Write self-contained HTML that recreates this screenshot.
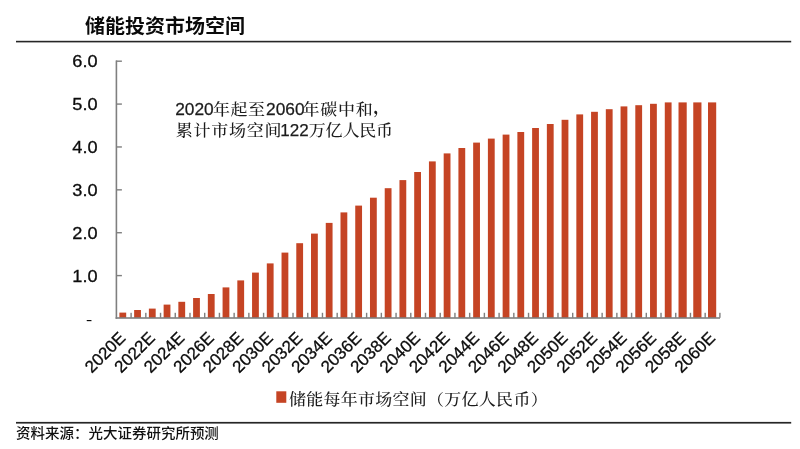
<!DOCTYPE html>
<html lang="zh-CN">
<head>
<meta charset="utf-8">
<title>储能投资市场空间</title>
<style>
html,body{margin:0;padding:0;background:#fff;}
body{width:800px;height:449px;overflow:hidden;position:relative;}
svg{position:absolute;left:0;top:0;display:block;}
.sans{font-family:"Liberation Sans","Noto Sans CJK SC",sans-serif;}
.serif{font-family:"Liberation Sans","Noto Serif CJK SC",serif;}
</style>
</head>
<body>
<svg width="800" height="449" viewBox="0 0 800 449">
<rect x="0" y="0" width="800" height="449" fill="#ffffff"/>
<text class="sans" transform="translate(85 33) scale(1 0.95)" x="0" y="0" font-size="20" font-weight="700" fill="#0a0a0a">储能投资市场空间</text>
<rect x="16" y="40.8" width="775.2" height="1.6" fill="#262626"/>
<rect x="16" y="421.9" width="775.2" height="1.7" fill="#262626"/>
<text class="sans" transform="translate(16 438.4) scale(1 0.96)" x="0" y="0" font-size="14.5" font-weight="500" fill="#111">资料来源：光大证券研究所预测</text>
<g fill="#C54424">
<rect x="119.40" y="312.60" width="6.80" height="5.40"/>
<rect x="134.14" y="310.00" width="6.80" height="8.00"/>
<rect x="148.88" y="308.60" width="6.80" height="9.40"/>
<rect x="163.62" y="304.60" width="6.80" height="13.40"/>
<rect x="178.36" y="301.80" width="6.80" height="16.20"/>
<rect x="193.10" y="298.00" width="6.80" height="20.00"/>
<rect x="207.84" y="294.00" width="6.80" height="24.00"/>
<rect x="222.58" y="287.40" width="6.80" height="30.60"/>
<rect x="237.32" y="280.40" width="6.80" height="37.60"/>
<rect x="252.06" y="272.60" width="6.80" height="45.40"/>
<rect x="266.80" y="263.40" width="6.80" height="54.60"/>
<rect x="281.54" y="252.60" width="6.80" height="65.40"/>
<rect x="296.28" y="243.20" width="6.80" height="74.80"/>
<rect x="311.02" y="233.60" width="6.80" height="84.40"/>
<rect x="325.76" y="222.90" width="6.80" height="95.10"/>
<rect x="340.50" y="212.40" width="6.80" height="105.60"/>
<rect x="355.24" y="205.60" width="6.80" height="112.40"/>
<rect x="369.98" y="197.70" width="6.80" height="120.30"/>
<rect x="384.72" y="188.20" width="6.80" height="129.80"/>
<rect x="399.46" y="180.10" width="6.80" height="137.90"/>
<rect x="414.20" y="172.00" width="6.80" height="146.00"/>
<rect x="428.94" y="161.40" width="6.80" height="156.60"/>
<rect x="443.68" y="153.40" width="6.80" height="164.60"/>
<rect x="458.42" y="148.00" width="6.80" height="170.00"/>
<rect x="473.16" y="142.60" width="6.80" height="175.40"/>
<rect x="487.90" y="138.60" width="6.80" height="179.40"/>
<rect x="502.64" y="134.60" width="6.80" height="183.40"/>
<rect x="517.38" y="132.00" width="6.80" height="186.00"/>
<rect x="532.12" y="128.00" width="6.80" height="190.00"/>
<rect x="546.86" y="124.00" width="6.80" height="194.00"/>
<rect x="561.60" y="119.80" width="6.80" height="198.20"/>
<rect x="576.34" y="114.40" width="6.80" height="203.60"/>
<rect x="591.08" y="111.80" width="6.80" height="206.20"/>
<rect x="605.82" y="109.20" width="6.80" height="208.80"/>
<rect x="620.56" y="106.40" width="6.80" height="211.60"/>
<rect x="635.30" y="105.20" width="6.80" height="212.80"/>
<rect x="650.04" y="103.80" width="6.80" height="214.20"/>
<rect x="664.78" y="102.40" width="6.80" height="215.60"/>
<rect x="678.52" y="102.40" width="8.20" height="215.60"/>
<rect x="693.26" y="102.40" width="8.20" height="215.60"/>
<rect x="708.00" y="102.40" width="8.20" height="215.60"/>
</g>
<g fill="#7f7f7f">
<rect x="115.6" y="60.5" width="1.6" height="258.3"/>
<rect x="115.6" y="317.2" width="604.4" height="1.6"/>
<rect x="116" y="60.50" width="5.9" height="1.4"/>
<rect x="116" y="103.38" width="5.9" height="1.4"/>
<rect x="116" y="146.26" width="5.9" height="1.4"/>
<rect x="116" y="189.14" width="5.9" height="1.4"/>
<rect x="116" y="232.02" width="5.9" height="1.4"/>
<rect x="116" y="274.90" width="5.9" height="1.4"/>
<rect x="130.40" y="312.8" width="1.4" height="5"/>
<rect x="145.12" y="312.8" width="1.4" height="5"/>
<rect x="159.84" y="312.8" width="1.4" height="5"/>
<rect x="174.56" y="312.8" width="1.4" height="5"/>
<rect x="189.28" y="312.8" width="1.4" height="5"/>
<rect x="204.00" y="312.8" width="1.4" height="5"/>
<rect x="218.72" y="312.8" width="1.4" height="5"/>
<rect x="233.44" y="312.8" width="1.4" height="5"/>
<rect x="248.16" y="312.8" width="1.4" height="5"/>
<rect x="262.88" y="312.8" width="1.4" height="5"/>
<rect x="277.60" y="312.8" width="1.4" height="5"/>
<rect x="292.32" y="312.8" width="1.4" height="5"/>
<rect x="307.04" y="312.8" width="1.4" height="5"/>
<rect x="321.76" y="312.8" width="1.4" height="5"/>
<rect x="336.48" y="312.8" width="1.4" height="5"/>
<rect x="351.20" y="312.8" width="1.4" height="5"/>
<rect x="365.92" y="312.8" width="1.4" height="5"/>
<rect x="380.64" y="312.8" width="1.4" height="5"/>
<rect x="395.36" y="312.8" width="1.4" height="5"/>
<rect x="410.08" y="312.8" width="1.4" height="5"/>
<rect x="424.80" y="312.8" width="1.4" height="5"/>
<rect x="439.52" y="312.8" width="1.4" height="5"/>
<rect x="454.24" y="312.8" width="1.4" height="5"/>
<rect x="468.96" y="312.8" width="1.4" height="5"/>
<rect x="483.68" y="312.8" width="1.4" height="5"/>
<rect x="498.40" y="312.8" width="1.4" height="5"/>
<rect x="513.12" y="312.8" width="1.4" height="5"/>
<rect x="527.84" y="312.8" width="1.4" height="5"/>
<rect x="542.56" y="312.8" width="1.4" height="5"/>
<rect x="557.28" y="312.8" width="1.4" height="5"/>
<rect x="572.00" y="312.8" width="1.4" height="5"/>
<rect x="586.72" y="312.8" width="1.4" height="5"/>
<rect x="601.44" y="312.8" width="1.4" height="5"/>
<rect x="616.16" y="312.8" width="1.4" height="5"/>
<rect x="630.88" y="312.8" width="1.4" height="5"/>
<rect x="645.60" y="312.8" width="1.4" height="5"/>
<rect x="660.32" y="312.8" width="1.4" height="5"/>
<rect x="675.04" y="312.8" width="1.4" height="5"/>
<rect x="689.76" y="312.8" width="1.4" height="5"/>
<rect x="704.48" y="312.8" width="1.4" height="5"/>
<rect x="719.20" y="312.8" width="1.4" height="5"/>
</g>
<g class="sans" font-size="17" fill="#0c0c0c" stroke="#0c0c0c" stroke-width="0.3" text-anchor="end">
<text transform="translate(97.6 67.20) scale(1.07 1)" x="0" y="0">6.0</text>
<text transform="translate(97.6 110.08) scale(1.07 1)" x="0" y="0">5.0</text>
<text transform="translate(97.6 152.96) scale(1.07 1)" x="0" y="0">4.0</text>
<text transform="translate(97.6 195.84) scale(1.07 1)" x="0" y="0">3.0</text>
<text transform="translate(97.6 238.72) scale(1.07 1)" x="0" y="0">2.0</text>
<text transform="translate(97.6 281.60) scale(1.07 1)" x="0" y="0">1.0</text>
<text transform="translate(92.3 325) scale(1.1 0.9)" x="0" y="0" stroke-width="0.1">-</text>
</g>
<g class="sans" font-size="17" fill="#0c0c0c" stroke="#0c0c0c" stroke-width="0.3" text-anchor="end">
<text transform="translate(118.10 330.50) rotate(-45)" x="0" y="12">2020E</text>
<text transform="translate(147.58 330.50) rotate(-45)" x="0" y="12">2022E</text>
<text transform="translate(177.06 330.50) rotate(-45)" x="0" y="12">2024E</text>
<text transform="translate(206.54 330.50) rotate(-45)" x="0" y="12">2026E</text>
<text transform="translate(236.02 330.50) rotate(-45)" x="0" y="12">2028E</text>
<text transform="translate(265.50 330.50) rotate(-45)" x="0" y="12">2030E</text>
<text transform="translate(294.98 330.50) rotate(-45)" x="0" y="12">2032E</text>
<text transform="translate(324.46 330.50) rotate(-45)" x="0" y="12">2034E</text>
<text transform="translate(353.94 330.50) rotate(-45)" x="0" y="12">2036E</text>
<text transform="translate(383.42 330.50) rotate(-45)" x="0" y="12">2038E</text>
<text transform="translate(412.90 330.50) rotate(-45)" x="0" y="12">2040E</text>
<text transform="translate(442.38 330.50) rotate(-45)" x="0" y="12">2042E</text>
<text transform="translate(471.86 330.50) rotate(-45)" x="0" y="12">2044E</text>
<text transform="translate(501.34 330.50) rotate(-45)" x="0" y="12">2046E</text>
<text transform="translate(530.82 330.50) rotate(-45)" x="0" y="12">2048E</text>
<text transform="translate(560.30 330.50) rotate(-45)" x="0" y="12">2050E</text>
<text transform="translate(589.78 330.50) rotate(-45)" x="0" y="12">2052E</text>
<text transform="translate(619.26 330.50) rotate(-45)" x="0" y="12">2054E</text>
<text transform="translate(648.74 330.50) rotate(-45)" x="0" y="12">2056E</text>
<text transform="translate(678.22 330.50) rotate(-45)" x="0" y="12">2058E</text>
<text transform="translate(707.70 330.50) rotate(-45)" x="0" y="12">2060E</text>
</g>
<g font-size="17" fill="#1c1c1c">
<text class="sans" stroke="#1c1c1c" stroke-width="0.25" transform="translate(175.20 115.00) scale(1.020 1)" x="0" y="0">2020</text>
<text class="serif" font-weight="500" transform="translate(212.90 115.00) scale(1 0.920)" x="0" y="0" letter-spacing="0.60">年起至</text>
<text class="sans" stroke="#1c1c1c" stroke-width="0.25" transform="translate(266.00 115.00) scale(1.020 1)" x="0" y="0">2060</text>
<text class="serif" font-weight="500" transform="translate(302.60 115.00) scale(1 0.920)" x="0" y="0" letter-spacing="0.70">年碳中和</text>
<text class="serif" font-weight="700" x="373.2" y="112.6">，</text>
<text class="serif" font-weight="500" transform="translate(175.75 135.70) scale(1 0.920)" x="0" y="0" letter-spacing="0.75">累计市场空间</text>
<text class="sans" stroke="#1c1c1c" stroke-width="0.25" transform="translate(280.30 135.70) scale(1.000 1)" x="0" y="0">122</text>
<text class="serif" font-weight="500" transform="translate(308.70 135.70) scale(1 0.920)" x="0" y="0" letter-spacing="-0.15">万亿人民币</text>
</g>
<rect x="276.3" y="391.3" width="10" height="11.5" fill="#C54424"/>
<g font-size="17" fill="#1c1c1c">
<text class="serif" font-weight="500" transform="translate(289.00 405.00) scale(1 0.930)" x="0" y="0" letter-spacing="0.27">储能每年市场空间（万亿人民币）</text>
</g>
</svg>
</body>
</html>
